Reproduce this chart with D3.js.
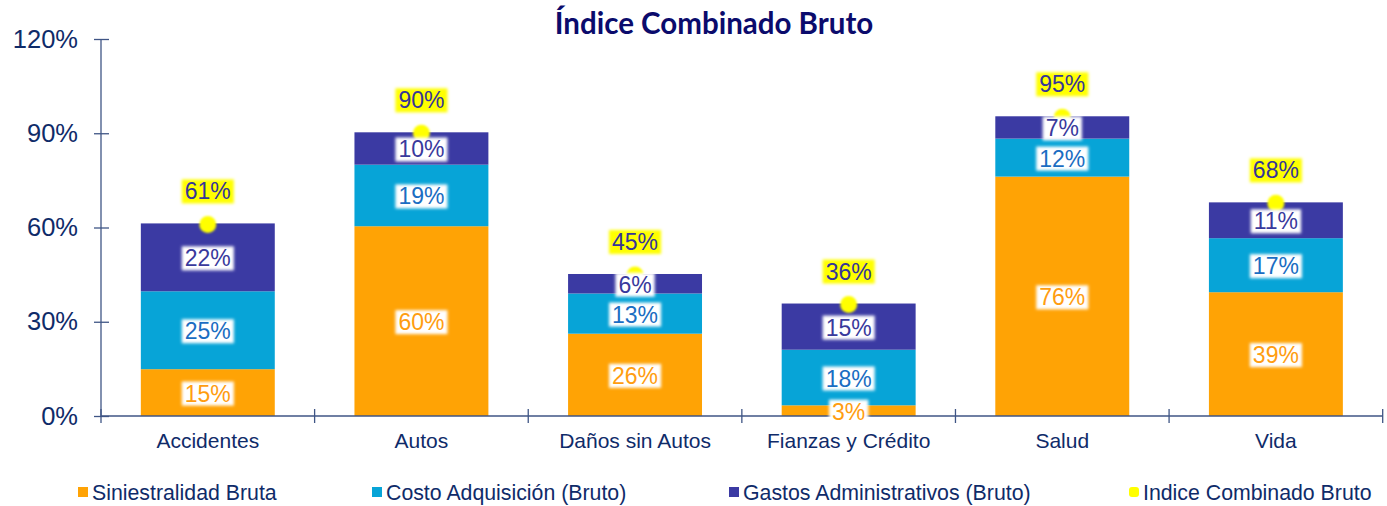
<!DOCTYPE html>
<html><head><meta charset="utf-8">
<script src="https://cdn.jsdelivr.net/npm/d3@7"></script>
<style>
html,body{margin:0;padding:0;background:#fff;}
svg{display:block;font-family:"Liberation Sans",Arial,sans-serif;}
</style></head>
<body>
<svg id="chart" width="1387" height="506"></svg>
<script>
const categories = ["Accidentes","Autos","Daños sin Autos","Fianzas y Crédito","Salud","Vida"];
const siniestralidad = [0.149,0.604,0.262,0.034,0.762,0.394];
const costoAdq = [0.248,0.196,0.128,0.177,0.121,0.172];
const gastosAdm = [0.216,0.103,0.062,0.147,0.071,0.114];
const indiceLabels = ["61%","90%","45%","36%","95%","68%"];
const sinLabels = ["15%","60%","26%","3%","76%","39%"];
const costoLabels = ["25%","19%","13%","18%","12%","17%"];
const gastosLabels = ["22%","10%","6%","15%","7%","11%"];
const yTicks = [0,0.3,0.6,0.9,1.2];
const seriesNames = ["Siniestralidad Bruta","Costo Adquisición (Bruto)","Gastos Administrativos (Bruto)","Indice Combinado Bruto"];
const title = "Índice Combinado Bruto";

const colors = ["#FFA305","#07A4D7","#3B3AA3","#FFFF00"];
const labelColors = ["#FF9D10","#1A6DC2","#39399C"];
const axisColor = "#3F5585";
const textColor = "#0F2B69";

const svg = d3.select("#chart");
const defs = svg.append("defs");
const f = defs.append("filter").attr("id","glow").attr("x","-30%").attr("y","-30%").attr("width","160%").attr("height","160%");
f.append("feGaussianBlur").attr("stdDeviation",1.8);
const f2 = defs.append("filter").attr("id","soft").attr("x","-30%").attr("y","-30%").attr("width","160%").attr("height","160%");
f2.append("feGaussianBlur").attr("stdDeviation",0.8);

const x = d3.scaleBand().domain(categories).range([101,1382.7]).paddingInner(0.373).paddingOuter(0.1865);
const y = d3.scaleLinear().domain([0,1.2]).range([416,39]);

// title
svg.append("text").attr("x",714).attr("y",34).attr("text-anchor","middle")
  .attr("font-family","Lato, 'Open Sans', sans-serif").attr("font-weight","bold")
  .attr("font-size",29.5).attr("fill","#0B0B6C").text(title);

// y axis
const yAxis = d3.axisLeft(y).tickValues(yTicks).tickFormat(d3.format(".0%")).tickSize(7).tickPadding(16);
const gy = svg.append("g").attr("transform","translate(101,0)").call(yAxis);
gy.select(".domain").attr("stroke",axisColor).attr("stroke-width",1.3).attr("d",`M0,${y(1.2)}V${y(0)}`);
gy.selectAll(".tick line").attr("stroke",axisColor).attr("stroke-width",1.3).attr("x1",8);
gy.selectAll(".tick text").attr("fill",textColor).attr("font-size",25.5).attr("font-family","'Liberation Sans',Arial,sans-serif");

// stacked data
const data = categories.map((c,i)=>({cat:c, s:siniestralidad[i], c2:costoAdq[i], g:gastosAdm[i]}));
const stack = d3.stack().keys(["s","c2","g"])(data);
const labelsBy = [sinLabels,costoLabels,gastosLabels];

const gBars = svg.append("g");
stack.forEach((layer,k)=>{
  gBars.selectAll(null).data(layer).enter().append("rect")
    .attr("x",d=>x(d.data.cat)).attr("width",x.bandwidth())
    .attr("y",d=>y(d[1])).attr("height",d=>y(d[0])-y(d[1]))
    .attr("fill",colors[k]);
});

// x axis
const gx = svg.append("g");
gx.append("line").attr("x1",101).attr("x2",1382.7).attr("y1",y(0)).attr("y2",y(0)).attr("stroke",axisColor).attr("stroke-width",1.3);
const x0 = x.range()[0];
d3.range(categories.length+1).forEach(i=>{
  const xx = x0 + i*x.step();
  gx.append("line").attr("x1",xx).attr("x2",xx).attr("y1",y(0)-7).attr("y2",y(0)+7).attr("stroke",axisColor).attr("stroke-width",1.3);
});
gx.selectAll(null).data(categories).enter().append("text")
  .attr("x",d=>x(d)+x.bandwidth()/2).attr("y",448).attr("text-anchor","middle")
  .attr("font-size",21).attr("fill",textColor).text(d=>d);

// dots
const totals = data.map(d=>d.s+d.c2+d.g);
svg.append("g").selectAll("circle").data(categories).enter().append("circle")
  .attr("cx",d=>x(d)+x.bandwidth()/2).attr("cy",(d,i)=>y(totals[i])+1).attr("r",8.5)
  .attr("fill",colors[3]).attr("filter","url(#soft)");

function boxedLabel(g, cx, cy, txt, fill, bg, fs){
  const grp = g.append("g");
  const t = grp.append("text").attr("x",cx).attr("y",cy).attr("text-anchor","middle")
    .attr("dominant-baseline","central").attr("font-size",fs).attr("fill",fill).text(txt);
  const b = t.node().getBBox();
  grp.insert("rect","text").attr("x",b.x-3).attr("y",b.y+1).attr("width",b.width+6).attr("height",b.height-2)
    .attr("fill",bg).attr("filter","url(#glow)");
}

// segment labels
const gLab = svg.append("g");
stack.forEach((layer,k)=>{
  layer.forEach((d,i)=>{
    boxedLabel(gLab, x(d.data.cat)+x.bandwidth()/2, (y(d[0])+y(d[1]))/2+1, labelsBy[k][i], labelColors[k], "#FFFFFF", 23);
  });
});

// total labels
categories.forEach((c,i)=>{
  boxedLabel(gLab, x(c)+x.bandwidth()/2, y(totals[i])-32, indiceLabels[i], "#35359A", "#FFFF00", 23);
});

// legend
const legX = [78,372,729,1129];
const lg = svg.append("g");
seriesNames.forEach((n,i)=>{
  lg.append("rect").attr("x",legX[i]).attr("y",487).attr("width",10).attr("height",10)
    .attr("rx",i===3?3:0).attr("fill",colors[i]);
  lg.append("text").attr("x",legX[i]+14).attr("y",500).attr("font-size",21.3).attr("fill",textColor).text(n);
});
</script>
</body></html>
